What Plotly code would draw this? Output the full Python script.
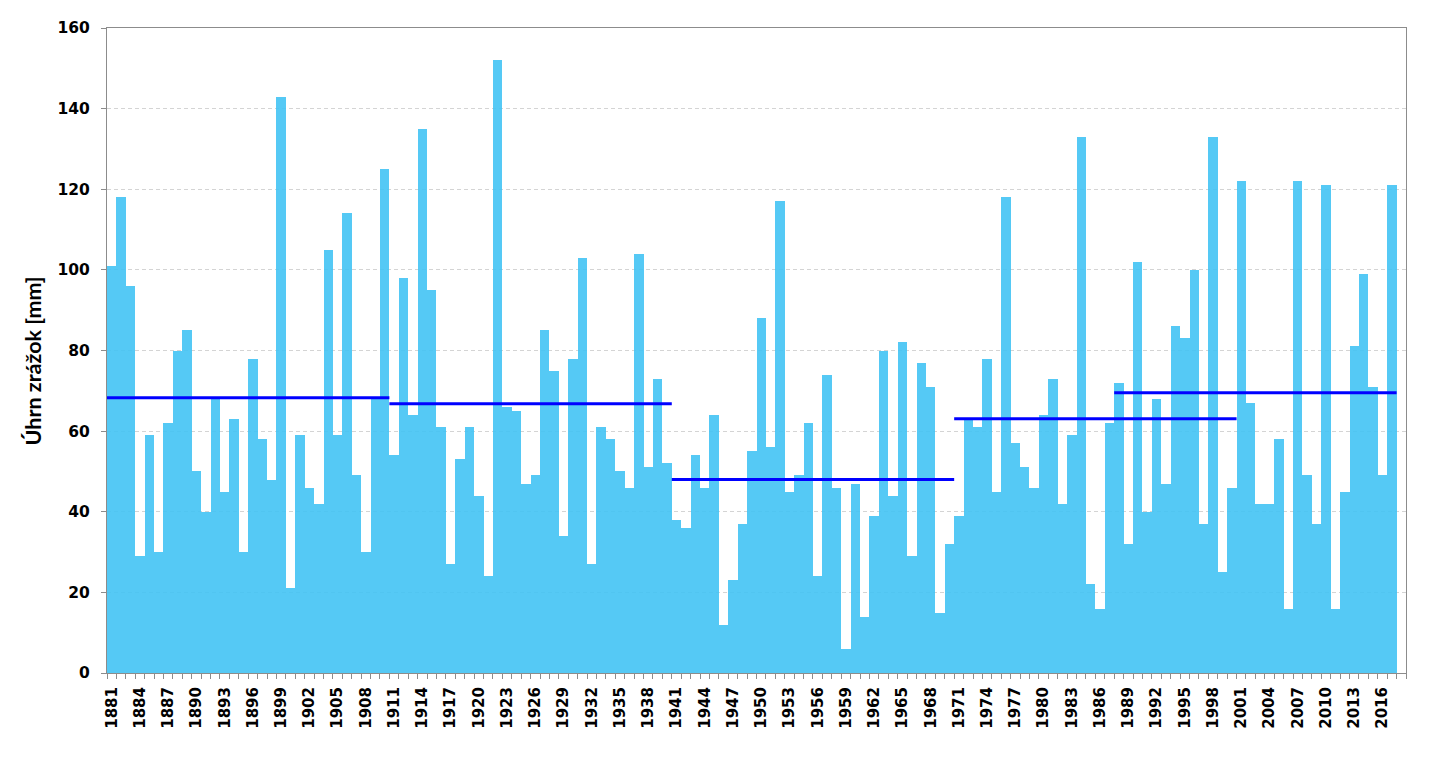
import plotly.graph_objects as go

# ---- data ----
years = list(range(1881, 2018))
precip = [
    101, 118, 96, 29, 59, 30, 62, 80, 85, 50,      # 1881-1890
    40, 68, 45, 63, 30, 78, 58, 48, 143, 21,       # 1891-1900
    59, 46, 42, 105, 59, 114, 49, 30, 68, 125,     # 1901-1910
    54, 98, 64, 135, 95, 61, 27, 53, 61, 44,       # 1911-1920
    24, 152, 66, 65, 47, 49, 85, 75, 34, 78,       # 1921-1930
    103, 27, 61, 58, 50, 46, 104, 51, 73, 52,      # 1931-1940
    38, 36, 54, 46, 64, 12, 23, 37, 55, 88,        # 1941-1950
    56, 117, 45, 49, 62, 24, 74, 46, 6, 47,        # 1951-1960
    14, 39, 80, 44, 82, 29, 77, 71, 15, 32,        # 1961-1970
    39, 63, 61, 78, 45, 118, 57, 51, 46, 64,       # 1971-1980
    73, 42, 59, 133, 22, 16, 62, 72, 32, 102,      # 1981-1990
    40, 68, 47, 86, 83, 100, 37, 133, 25, 46,      # 1991-2000
    122, 67, 42, 42, 58, 16, 122, 49, 37, 121,     # 2001-2010
    16, 45, 81, 99, 71, 49, 121,                   # 2011-2017
]

# 30-year period means
period_start = [1881, 1911, 1941, 1971, 1988]
period_end = [1910, 1940, 1970, 2000, 2017]
period_mean = [68.3, 66.8, 48.0, 63.1, 69.5]

x_labels = ["1881", "1884", "1887", "1890", "1893", "1896", "1899", "1902", "1905",
            "1908", "1911", "1914", "1917", "1920", "1923", "1926", "1929", "1932",
            "1935", "1938", "1941", "1944", "1947", "1950", "1953", "1956", "1959",
            "1962", "1965", "1968", "1971", "1974", "1977", "1980", "1983", "1986",
            "1989", "1992", "1995", "1998", "2001", "2004", "2007", "2010", "2013",
            "2016"]
y_ticks = [0, 20, 40, 60, 80, 100, 120, 140, 160]

first_year = 1881
last_slot = 2018  # empty category at the end

# ---- figure ----
fig = go.Figure()
fig.add_trace(go.Bar(
    x=years, y=precip, width=1,
    marker=dict(color="rgb(67,195,244)", opacity=0.9, line=dict(width=0)),
    showlegend=False, hoverinfo="x+y",
))
for s, e, m in zip(period_start, period_end, period_mean):
    fig.add_trace(go.Scatter(
        x=[s - 0.5, e + 0.5], y=[m, m], mode="lines",
        line=dict(color="#0000FF", width=3),
        showlegend=False, hoverinfo="skip",
    ))

axis_gray = "#8C8C8C"

# the page body adds an 8px margin, so the figure is sized/offset for it
fig.update_layout(
    width=1417, height=742,
    margin=dict(l=99, r=19, t=20, b=77),
    paper_bgcolor="white", plot_bgcolor="white",
    bargap=0,
    xaxis=dict(
        range=[first_year - 0.5, last_slot + 0.5],
        tickmode="array",
        tickvals=[int(t) for t in x_labels],
        ticktext=x_labels,
        tickangle=-90,
        ticks="",
        tickfont=dict(family="DejaVu Sans", size=15, color="black", weight="bold"),
        ticklabelstandoff=7,
        showgrid=False,
        zeroline=False,
        showline=True, linecolor=axis_gray, linewidth=1, mirror=True,
        minor=dict(tickmode="linear", tick0=first_year - 0.5, dtick=1,
                   ticks="outside", ticklen=5, tickcolor=axis_gray, tickwidth=1,
                   showgrid=False),
    ),
    yaxis=dict(
        range=[0, 160],
        tickmode="array", tickvals=y_ticks,
        ticks="outside", ticklen=5, tickcolor=axis_gray,
        tickfont=dict(family="DejaVu Sans", size=15.5, color="black", weight="bold"),
        ticklabelstandoff=8,
        showgrid=True, gridcolor="#D4D4D4", griddash="4px,3px", gridwidth=1,
        zeroline=False,
        showline=True, linecolor=axis_gray, linewidth=1, mirror=True,
    ),
    annotations=[dict(
        text="Úhrn zrážok [mm]", textangle=-90,
        xref="paper", yref="paper", x=0, y=0.483,
        xanchor="center", yanchor="middle", xshift=-74,
        showarrow=False,
        font=dict(family="Lato", size=21.5, color="black", weight="bold"),
    )],
)

fig.write_html("out.html")
